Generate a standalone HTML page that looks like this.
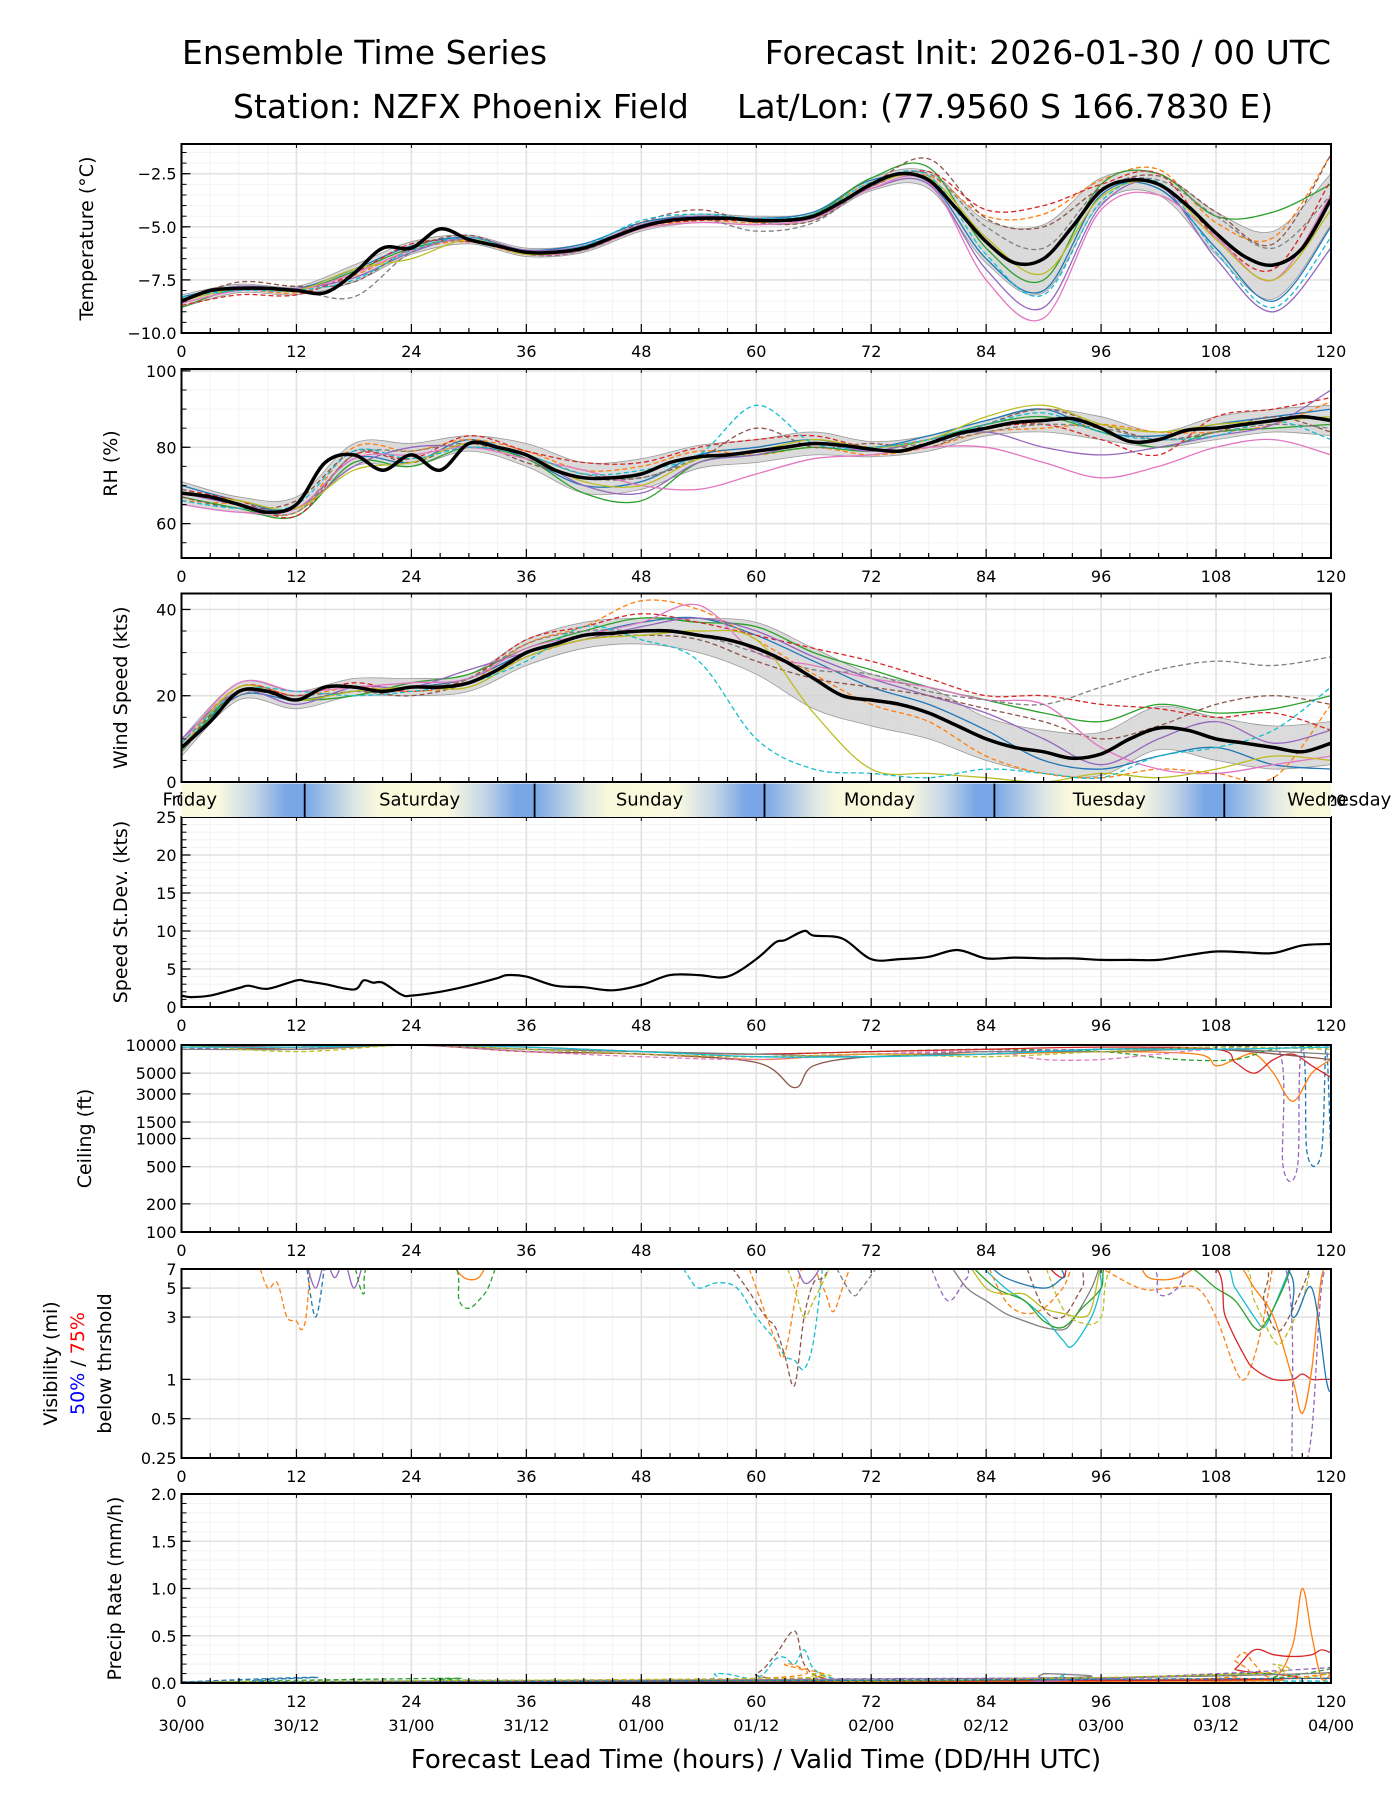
<!DOCTYPE html>
<html><head><meta charset="utf-8"><style>
html,body{margin:0;padding:0;background:#fff;}
svg{display:block;font-family:"DejaVu Sans","Liberation Sans",sans-serif;}
</style></head><body>
<svg id="chart" width="1400" height="1800" viewBox="0 0 1400 1800" xmlns="http://www.w3.org/2000/svg">
<text x="182" y="64" font-size="33">Ensemble Time Series</text>
<text x="1331" y="64" font-size="33" text-anchor="end">Forecast Init: 2026-01-30 / 00 UTC</text>
<text x="233" y="118" font-size="33">Station: NZFX Phoenix Field</text>
<text x="737" y="118" font-size="33">Lat/Lon: (77.9560 S 166.7830 E)</text>
<text x="756" y="1768" font-size="26" text-anchor="middle">Forecast Lead Time (hours) / Valid Time (DD/HH UTC)</text>
</svg>
<script>
// ---------- data ----------
const hours3 = [0,3,6,9,12,15,18,21,24,27,30,33,36,39,42,45,48,51,54,57,60,63,66,69,72,75,78,81,84,87,90,93,96,99,102,105,108,111,114,117,120];
const hours6 = [0,6,12,18,24,30,36,42,48,54,60,66,72,78,84,90,96,102,108,114,120];
const tempMean = [-8.5,-8.0,-7.9,-7.9,-8.0,-8.1,-7.2,-6.0,-6.0,-5.1,-5.6,-5.9,-6.2,-6.2,-6.0,-5.5,-5.0,-4.7,-4.6,-4.6,-4.7,-4.7,-4.5,-3.8,-3.0,-2.5,-2.8,-4.2,-5.7,-6.7,-6.5,-5.0,-3.3,-2.8,-3.0,-4.0,-5.3,-6.4,-6.8,-6.0,-3.7];
const tempSpread = [0.3,0.2,0.2,0.4,0.3,0.2,0.2,0.2,0.2,0.2,0.2,0.2,0.3,0.4,1.0,1.6,0.6,0.5,1.0,1.6,1.2];
const tempMembers = [
[-8.3,-7.8,-7.9,-7.0,-5.9,-5.5,-6.1,-5.8,-4.8,-4.5,-4.6,-4.3,-2.8,-2.9,-6.5,-8.0,-3.5,-3.2,-6.0,-8.5,-5.0],
[-8.6,-8.0,-8.1,-7.3,-6.1,-5.7,-6.3,-6.1,-5.1,-4.7,-4.8,-4.4,-2.9,-2.6,-4.5,-4.4,-2.8,-2.3,-4.8,-5.5,-1.6],
[-8.8,-7.9,-8.0,-7.1,-6.0,-5.6,-6.2,-5.9,-5.0,-4.6,-4.7,-4.4,-2.7,-2.2,-6.0,-7.5,-3.0,-2.5,-4.5,-4.3,-3.0],
[-8.7,-8.2,-8.2,-7.2,-5.8,-5.7,-6.2,-6.0,-5.0,-4.7,-4.7,-4.6,-3.1,-2.4,-4.2,-4.0,-3.0,-2.5,-5.5,-7.0,-2.8],
[-8.4,-7.8,-7.9,-7.4,-6.2,-5.5,-6.1,-5.9,-4.9,-4.5,-4.6,-4.5,-3.2,-3.0,-7.0,-8.8,-4.0,-3.0,-6.5,-9.0,-6.0],
[-8.5,-7.6,-7.8,-7.6,-6.0,-5.4,-6.3,-6.1,-4.8,-4.2,-4.8,-4.7,-3.0,-1.8,-4.6,-5.0,-3.2,-2.6,-4.3,-5.8,-1.6],
[-8.6,-8.0,-8.0,-7.2,-6.1,-5.6,-6.3,-6.1,-5.1,-4.8,-4.9,-4.6,-3.2,-2.9,-7.5,-9.3,-4.2,-3.5,-5.5,-7.5,-3.5],
[-8.4,-7.9,-8.0,-8.3,-6.2,-5.6,-6.2,-6.1,-5.0,-4.6,-5.2,-4.8,-3.1,-2.5,-5.0,-6.0,-3.2,-2.8,-4.5,-6.0,-3.5],
[-8.5,-7.9,-8.0,-7.0,-6.5,-5.6,-6.3,-6.0,-5.0,-4.6,-4.7,-4.5,-3.0,-2.7,-5.5,-7.2,-3.6,-3.0,-5.6,-7.5,-4.2],
[-8.3,-8.0,-8.0,-7.5,-6.1,-5.5,-6.2,-5.9,-4.7,-4.4,-4.6,-4.4,-2.9,-2.6,-6.3,-8.2,-3.8,-2.9,-6.2,-8.8,-5.5]];
const rhMean = [68,67,65,63,65,76,78,74,78,74,81,80,78,74,72,72,73,76,77.5,78,79,80,81,80.5,79.5,79,81,83.5,85,86.5,87,87.5,85,81.5,82,84.5,85,86,87,88,87];
const rhSpread = [3,2,2,3,3,2,3,4,4,3,3,3,2,2,2,3,3,2,3,3,4];
const rhMembers = [
[70,66,64,77,76,82,77,70,71,78,80,82,80,83,87,90,84,83,86,88,90],
[66,65,63,80,79,82,79,74,75,79,78,80,78,80,84,85,86,84,84,86,92],
[67,64,62,76,75,80,77,68,66,76,78,80,79,82,86,88,84,80,84,85,86],
[69,66,62,78,77,83,79,76,76,80,82,83,80,82,85,86,82,78,88,90,93],
[68,65,64,75,80,80,78,70,68,76,78,81,79,82,84,80,78,80,83,86,95],
[67,64,66,79,76,81,76,72,72,77,85,80,81,80,86,90,86,82,84,88,84],
[65,63,64,77,78,80,77,74,70,69,73,77,78,80,80,76,72,75,80,82,78],
[69,65,63,78,79,81,78,73,72,77,79,81,80,81,84,86,85,82,84,86,85],
[68,66,64,74,76,81,78,71,70,77,79,82,80,82,88,91,86,84,86,87,88],
[66,64,65,79,77,80,78,73,74,78,91,81,80,82,86,89,84,82,83,87,82]];
const windMean = [8,14,21,21,19,22,22,21,22,22,23,26,30,32,34,34.5,35,35,34,33,31,28,24,20,19,18,16,13,10,8,7,5.5,6.5,10,12.5,12,10,9,8,7,9];
const windSpread = [2,2,2,2,2,2,3,3,3,4,6,7,6,6,5,5,5,5,5,5,5];
const windMembers = [
[8,20,19,21,22,24,30,34,37,38,34,28,22,18,12,5,3,6,8,4,3],
[9,22,20,22,21,23,32,36,42,40,33,25,18,14,6,2,1,3,2,1,18],
[7,21,19,20,23,25,31,35,38,37,36,30,26,22,19,16,14,18,16,17,20],
[8,22,20,23,21,24,33,36,39,37,34,31,28,24,20,20,18,17,15,16,12],
[10,21,18,22,22,26,30,33,36,38,35,29,24,20,16,10,4,10,14,9,12],
[8,21,19,21,20,23,29,33,34,33,28,24,22,20,17,14,10,13,18,20,18],
[9,23,21,22,23,24,31,34,37,41,30,27,24,22,19,18,8,3,2,4,6],
[7,20,20,21,22,24,32,35,35,34,30,26,25,21,19,18,22,26,28,27,29],
[8,22,19,21,22,22,29,33,34,35,33,16,3,2,1,0,2,1,3,6,5],
[9,21,21,20,21,23,28,36,33,28,10,3,2,1,3,2,1,6,8,12,22]];
const sdHours = [0,1,3,6,7,9,12,13,15,18,19,20,21,23,24,27,30,33,34,36,39,42,45,48,51,54,57,60,62,63,65,66,69,72,75,78,81,84,87,90,93,96,99,102,105,108,111,114,117,120];
const sdValues = [1.5,1.3,1.5,2.5,2.8,2.4,3.5,3.4,3.0,2.3,3.5,3.2,3.2,1.6,1.5,2.0,2.8,3.8,4.2,4.0,2.8,2.6,2.2,2.9,4.2,4.2,4.0,6.3,8.5,8.8,10.0,9.4,9.0,6.3,6.3,6.6,7.5,6.4,6.5,6.4,6.4,6.2,6.2,6.2,6.8,7.3,7.2,7.1,8.1,8.3];
const ceilMembers = [
[[0,9000],[6,9500],[12,9000],[18,10000],[24,10000],[36,9000],[48,8000],[60,7500],[72,8000],[84,8500],[96,9000],[108,9500],[114,10000],[117,10000],[117.5,700],[119,700],[119.5,10000],[120,600]],
[[0,10000],[12,9000],[24,10000],[36,8500],[48,8000],[60,7000],[66,7500],[72,8000],[84,8000],[96,8500],[106,8000],[108,6000],[110,7000],[112,8000],[114,5000],[116,2500],[118,5000],[120,7000]],
[[0,9500],[12,10000],[24,10000],[36,9000],[48,8500],[60,8000],[72,8500],[84,9000],[96,8500],[104,7000],[110,7000],[114,9000],[120,10000]],
[[0,10000],[12,9500],[24,10000],[36,9500],[48,8500],[60,8000],[72,8500],[84,9000],[96,9500],[108,9000],[110,6500],[112,5000],[114,7000],[116,8000],[118,6000],[120,4500]],
[[0,9000],[12,9500],[24,10000],[36,9000],[48,8000],[60,7500],[72,8000],[84,8500],[96,9000],[108,9000],[114.5,9000],[115,500],[116.5,500],[117,10000],[120,10000]],
[[0,10000],[12,9000],[24,10000],[36,8500],[48,8000],[60,6500],[64,3500],[66,6000],[72,7500],[84,8000],[96,9000],[108,9000],[120,7000]],
[[0,9500],[12,9500],[24,10000],[36,8500],[48,7500],[60,7000],[72,8000],[84,8500],[90,7000],[96,7000],[102,8000],[108,9000],[120,9500]],
[[0,9000],[12,9000],[24,10000],[36,9000],[48,8500],[60,8000],[72,7500],[84,8500],[96,8500],[108,9000],[120,8000]],
[[0,10000],[12,8500],[24,10000],[36,9000],[48,8000],[60,7500],[72,8000],[84,7500],[96,8500],[108,9500],[120,9000]],
[[0,9500],[12,9500],[24,10000],[36,9500],[48,8500],[60,7500],[72,7500],[84,8000],[96,9000],[108,9000],[120,9500]]];
const visMembers = [
[1,true,[[8,8],[9,5],[10,5.5],[11,3],[12,2.8],[12.5,2.4],[13,3],[13.5,8]]],
[1,false,[[28,8],[29.5,6],[31,6],[32,8]]],
[0,true,[[13,8],[14,3],[15,8]]],
[4,false,[[13,8],[14,5],[15,8],[16,6],[17,8],[18,5],[19,8]]],
[2,true,[[18,8],[19,4.5],[20,8],[28,8],[29,4],[30,3.5],[31,4],[32,5],[33,8]]],
[9,true,[[52,8],[53,6],[54,5],[56,5.5],[58,5],[60,3],[62,2],[63,1.5],[64,1.4],[65,1.2],[66,2],[67,8]]],
[5,true,[[57,8],[59,5],[61,3],[62,2.5],[63,1.5],[64,0.9],[65,3],[66,5.5],[67,6],[68,8]]],
[1,true,[[59,8],[60,5],[62,2],[63,1.6],[65,8],[67,5],[68,3.3],[69,5],[70,8]]],
[8,true,[[63,8],[64,5],[65,3],[66,4],[68,8]]],
[7,true,[[68,8],[70,4.5],[71,5],[73,8]]],
[4,false,[[64,8],[65,5.5],[66,6],[67,8]]],
[7,false,[[80,8],[82,5],[84,4],[86,3.2],[88,2.8],[90,2.5],[92,2.4],[93,2.8],[95,5],[96,8]]],
[9,false,[[83,8],[86,5],[88,4],[90,3],[92,2],[93,1.8],[95,3],[96,5],[97,8],[108,8],[110,5],[112,3],[113,2.5],[114,3.5],[116,8]]],
[2,false,[[82,8],[85,5],[88,4],[90,2.8],[92,2.5],[94,3.5],[96,5],[97,8],[104,8],[108,5],[110,4],[112,2.5],[113,2.6],[115,5],[116,8]]],
[8,false,[[82,8],[84,5],[86,4.5],[88,4.5],[90,3.5],[92,3.2],[94,3],[95,3.5],[96,8]]],
[8,true,[[90,8],[92,3.5],[94,2.7],[96,3],[98,8],[110,8],[112,4],[114,2],[115,2],[117,4],[118,8]]],
[1,true,[[84,8],[86,4],[88,3.2],[90,3.5],[92,5],[94,8],[100,5],[103,5],[106,5],[108,3],[110,1.2],[111,1],[112,1.5],[113,3],[114,8]]],
[3,false,[[90,8],[92,6],[94,8],[107,8],[109,3],[111,1.5],[112,1.2],[114,1],[116,1],[117,1.1],[118,1],[119,1],[120,1]]],
[1,false,[[100,8],[101,6],[104,6],[107,8],[110,8],[112,5],[114,3],[116,1],[117,0.55],[118,1.2],[119,6],[120,8]]],
[4,true,[[78,8],[80,4],[82,6],[84,8],[100,8],[102,4.5],[104,5],[106,8],[115,8],[116,0.2],[117,0.2],[118,0.4],[119,5],[120,8]]],
[5,true,[[88,8],[90,3.5],[92,3],[94,5],[96,8],[112,8],[113,4],[114,2.5],[115,2.5],[117,5],[118,8]]],
[0,false,[[84,8],[86,6],[90,5],[92,6],[94,8],[114,8],[116,3],[118,5],[119.5,1],[120,0.8]]]];
const precipMembers = [
[5,true,[[0,0],[56,0.02],[60,0.1],[62,0.3],[64,0.55],[65,0.2],[67,0.05],[72,0.02],[120,0.05]]],
[9,true,[[0,0],[50,0.02],[56,0.1],[60,0.05],[62,0.25],[63,0.27],[64,0.2],[65,0.35],[66,0.15],[68,0.05],[72,0.02],[90,0.05],[92,0.1],[95,0.03],[120,0.02]]],
[1,true,[[0,0],[60,0.05],[63,0.2],[65,0.15],[67,0.1],[70,0.02],[108,0.05],[110,0.25],[111,0.32],[112,0.2],[114,0.05],[120,0.1]]],
[1,false,[[0,0],[106,0.02],[110,0.05],[114,0.05],[116,0.4],[117,1.0],[118,0.5],[119,0.05],[120,0.1]]],
[3,false,[[0,0],[108,0.03],[110,0.15],[112,0.35],[114,0.3],[116,0.28],[118,0.3],[119,0.35],[120,0.32]]],
[2,true,[[0,0],[28,0.05],[30,0.03],[84,0.03],[112,0.1],[114,0.05],[120,0.15]]],
[7,false,[[0,0],[88,0.05],[90,0.1],[92,0.05],[118,0.1],[120,0.15]]],
[4,true,[[0,0],[86,0.05],[90,0.02],[118,0.15],[120,0.2]]],
[8,true,[[0,0],[62,0.05],[66,0.1],[70,0.02],[112,0.1],[114,0.2],[116,0.05],[120,0.1]]],
[0,true,[[0,0],[14,0.06],[15,0],[120,0.05]]]];
const dayNames = ["Friday","Saturday","Sunday","Monday","Tuesday","Wednesday"];
const dateLabels = ["30/00","30/12","31/00","31/12","01/00","01/12","02/00","02/12","03/00","03/12","04/00"];
const xTicks = [0,12,24,36,48,60,72,84,96,108,120];

// ---------- drawing ----------
const NS="http://www.w3.org/2000/svg";
const svg=document.getElementById('chart');
const COLORS=['#1f77b4','#ff7f0e','#2ca02c','#d62728','#9467bd','#8c564b','#e377c2','#7f7f7f','#bcbd22','#17becf'];
const X0=181.5, X1=1331;
function xs(h){return X0+(h/120)*(X1-X0);}
function mk(tag,attrs,parent){const e=document.createElementNS(NS,tag);for(const k in attrs)e.setAttribute(k,attrs[k]);(parent||svg).appendChild(e);return e;}
function smooth(p){
  let d='M'+p[0][0].toFixed(1)+','+p[0][1].toFixed(1);
  for(let i=0;i<p.length-1;i++){
    const a=p[i-1]||p[i],b=p[i],c=p[i+1],e=p[i+2]||c;
    const c1x=b[0]+(c[0]-a[0])/6,c1y=b[1]+(c[1]-a[1])/6,c2x=c[0]-(e[0]-b[0])/6,c2y=c[1]-(e[1]-b[1])/6;
    d+='C'+c1x.toFixed(1)+','+c1y.toFixed(1)+' '+c2x.toFixed(1)+','+c2y.toFixed(1)+' '+c[0].toFixed(1)+','+c[1].toFixed(1);
  }
  return d;
}
let panelCount=0;
function panel(cfg){
  const g=mk('g',{});
  
  
  const top=cfg.top,bot=cfg.bot,H=bot-top;
  const ys=cfg.log?(v=>bot-(Math.log(v)-Math.log(cfg.lo))/(Math.log(cfg.hi)-Math.log(cfg.lo))*H):(v=>bot-(v-cfg.lo)/(cfg.hi-cfg.lo)*H);
  const id='clip'+(panelCount++);
  const cp=mk('clipPath',{id:id},g);mk('rect',{x:X0,y:top,width:X1-X0,height:H},cp);
  for(let h=0;h<=120;h+=3){ if(h%12) { mk('line',{x1:xs(h),x2:xs(h),y1:top,y2:bot,stroke:'#f3f3f3','stroke-width':1},g);} }
  (cfg.minorY||[]).forEach(v=>{mk('line',{x1:X0,x2:X1,y1:ys(v),y2:ys(v),stroke:'#f3f3f3','stroke-width':1},g);});
  xTicks.forEach(h=>{const l=mk('line',{x1:xs(h),x2:xs(h),y1:top,y2:bot,stroke:'#e2e2e2','stroke-width':1.6},g);});
  cfg.ticks.forEach(v=>{mk('line',{x1:X0,x2:X1,y1:ys(v),y2:ys(v),stroke:'#e2e2e2','stroke-width':1.6},g);});
  const pg=mk('g',{'clip-path':'url(#'+id+')'},g);
  
  
  cfg.draw(pg,ys);
  for(let h=0;h<=120;h+=3){const len=h%12?5:9;mk('line',{x1:xs(h),x2:xs(h),y1:bot,y2:bot-len,stroke:'#000','stroke-width':1.2},g);
    if(h%12==0) mk('line',{x1:xs(h),x2:xs(h),y1:top,y2:top+4,stroke:'#000','stroke-width':1},g);}
  (cfg.minorY||[]).forEach(v=>{mk('line',{x1:X0,x2:X0+5,y1:ys(v),y2:ys(v),stroke:'#000','stroke-width':1},g);});
  cfg.ticks.forEach((v,i)=>{mk('line',{x1:X0,x2:X0+9,y1:ys(v),y2:ys(v),stroke:'#000','stroke-width':1.2},g);
    const t=mk('text',{x:X0-5,y:ys(v)+6,'font-size':16,'text-anchor':'end'},g);t.textContent=cfg.tickLabels[i];
    });
  xTicks.forEach(h=>{const t=mk('text',{x:xs(h),y:bot+24,'font-size':16,'text-anchor':'middle'},g);t.textContent=String(h);
    });
  const fr=mk('rect',{x:X0,y:top,width:X1-X0,height:H,fill:'none',stroke:'#000','stroke-width':2},g);
  
  cfg.labels.forEach(L=>{const t=mk('text',{transform:'translate('+L.x+','+(top+H/2)+') rotate(-90)','font-size':19,'text-anchor':'middle'},g);
    
    L.parts.forEach(p=>{const s=mk('tspan',{fill:p[1]||'#000'},t);s.textContent=p[0];});});
  return {ys};
}
function memberLine(pg,pts,ci,dashed,name){
  const p=mk('path',{d:smooth(pts),fill:'none',stroke:COLORS[ci%10],'stroke-width':1.3,'stroke-dasharray':dashed?'5,3':'none'},pg);
  
}
function ensemble(mean,spread,members){
  return function(pg,ys){
    const up=hours6.map((h,i)=>[xs(h),ys(mean[i*2]+spread[i])]);
    const lo=hours6.map((h,i)=>[xs(h),ys(mean[i*2]-spread[i])]).reverse();
    const band=mk('path',{d:smooth(up)+'L'+smooth(lo).slice(1)+'Z',fill:'#cfcfcf','fill-opacity':0.75,stroke:'#999','stroke-width':0.8},pg);
    
    members.forEach((m,k)=>memberLine(pg,hours6.map((h,i)=>[xs(h),ys(m[i])]),k,k%2==1,'member-line'));
    const ml=mk('path',{d:smooth(hours3.map((h,i)=>[xs(h),ys(mean[i])])),fill:'none',stroke:'#000','stroke-width':3.5},pg);
    
  };
}
function range(a,b,s){const r=[];for(let v=a;v<=b+1e-9;v+=s)r.push(+v.toFixed(3));return r;}

panel({name:'temperature',top:144,bot:333,lo:-10,hi:-1.1,ticks:[-10,-7.5,-5,-2.5],tickLabels:['−10.0','−7.5','−5.0','−2.5'],minorY:range(-10,-1.5,0.5),
  labels:[{x:93,parts:[['Temperature (°C)']]}],draw:ensemble(tempMean,tempSpread,tempMembers)});
panel({name:'rh',top:369,bot:558,lo:51,hi:100.5,ticks:[60,80,100],tickLabels:['60','80','100'],minorY:range(55,100,5),
  labels:[{x:117,parts:[['RH (%)']]}],draw:ensemble(rhMean,rhSpread,rhMembers)});
panel({name:'wind-speed',top:593.5,bot:782,lo:0,hi:43.7,ticks:[0,20,40],tickLabels:['0','20','40'],minorY:range(5,40,5),
  labels:[{x:127,parts:[['Wind Speed (kts)']]}],draw:ensemble(windMean,windSpread,windMembers)});
panel({name:'speed-stdev',top:817,bot:1007,lo:0,hi:25,ticks:[0,5,10,15,20,25],tickLabels:['0','5','10','15','20','25'],minorY:range(1,24,1),
  labels:[{x:127,parts:[['Speed St.Dev. (kts)']]}],draw:function(pg,ys){
    const p=mk('path',{d:smooth(sdHours.map((h,i)=>[xs(h),ys(sdValues[i])])),fill:'none',stroke:'#000','stroke-width':2.2},pg);
    }});
panel({name:'ceiling',top:1045,bot:1232,log:true,lo:100,hi:10000,ticks:[100,200,500,1000,1500,3000,5000,10000],tickLabels:['100','200','500','1000','1500','3000','5000','10000'],minorY:[],
  labels:[{x:91,parts:[['Ceiling (ft)']]}],draw:function(pg,ys){
    ceilMembers.forEach((m,k)=>memberLine(pg,m.map(q=>[xs(q[0]),ys(q[1])]),k,k%2==0,'ceiling-member-line'));}});
panel({name:'visibility',top:1269,bot:1458,log:true,lo:0.25,hi:7,ticks:[0.25,0.5,1,3,5,7],tickLabels:['0.25','0.5','1','3','5','7'],minorY:[],
  labels:[{x:57,parts:[['Visibility (mi)']]},{x:84,parts:[['50%','#0000ff'],[' / '],['75%','#ff0000']]},{x:111,parts:[['below thrshold']]}],
  draw:function(pg,ys){visMembers.forEach(m=>memberLine(pg,m[2].map(q=>[xs(q[0]),ys(q[1])]),m[0],m[1],'visibility-member-line'));}});
panel({name:'precip',top:1494,bot:1683,lo:0,hi:2,ticks:[0,0.5,1,1.5,2],tickLabels:['0.0','0.5','1.0','1.5','2.0'],minorY:range(0.1,1.9,0.1),
  labels:[{x:121,parts:[['Precip Rate (mm/h)']]}],
  draw:function(pg,ys){precipMembers.forEach(m=>memberLine(pg,m[2].map(q=>[xs(q[0]),Math.min(ys(q[1]),1682)]),m[0],m[1],'precip-member-line'));}});
xTicks.forEach((h,i)=>{const t=mk('text',{x:xs(h),y:1731,'font-size':16,'text-anchor':'middle'});t.textContent=dateLabels[i];
  });
(function(){
  const top=783.5,bot=817,first=12.86-24;
  const defs=mk('defs',{});
  const cp=mk('clipPath',{id:'bandclip'},defs);mk('rect',{x:X0,y:top,width:X1-X0,height:bot-top},cp);
  const g=mk('g',{});
  
  const bg=mk('g',{'clip-path':'url(#bandclip)'},g);
  dayNames.forEach((d,i)=>{
    const s=first+24*i,e=s+24;
    const gr=mk('linearGradient',{id:'dg'+i,gradientUnits:'userSpaceOnUse',x1:xs(s),x2:xs(e),y1:0,y2:0},defs);
    [[0,'#78a6e6'],[0.22,'#dfe8e4'],[0.32,'#f8f8dc'],[0.62,'#fafae0'],[0.78,'#c5d6e6'],[0.92,'#78a6e6'],[1,'#78a6e6']].forEach(st=>mk('stop',{offset:st[0],'stop-color':st[1]},gr));
    const r=mk('rect',{x:xs(s),y:top,width:xs(e)-xs(s),height:bot-top,fill:'url(#dg'+i+')'},bg);
    
    if(i>0){mk('line',{x1:xs(s),x2:xs(s),y1:top,y2:bot,stroke:'#000','stroke-width':1.8},g);}
  });
  dayNames.forEach((d,i)=>{const t=mk('text',{x:xs(first+24*i+12),y:top+22,'font-size':18,'text-anchor':'middle'},g);t.textContent=d;
    });
})();
</script>
</body></html>
